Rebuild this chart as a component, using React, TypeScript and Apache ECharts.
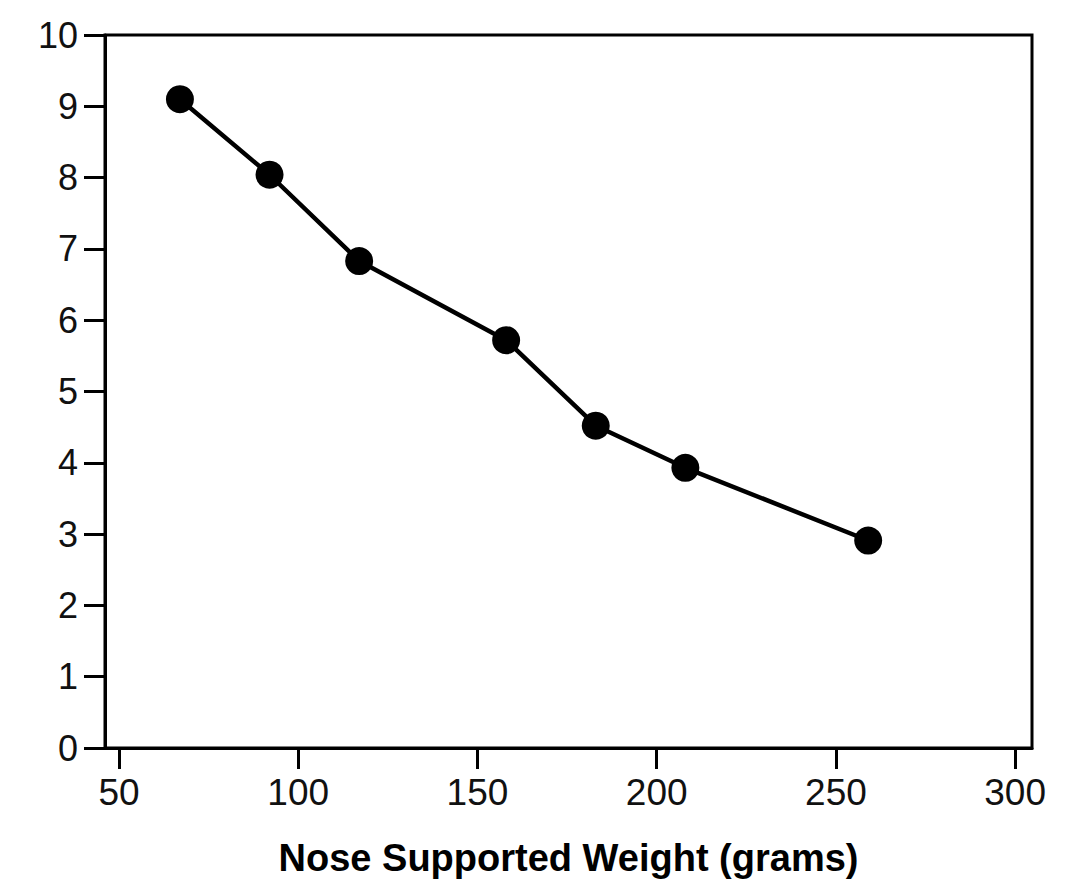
import React, { useEffect, useRef } from "react";
import * as echarts from "echarts";

const weights = [67, 92, 117, 158, 183, 208, 259];
const values = [9.1, 8.04, 6.83, 5.72, 4.52, 3.93, 2.91];
const xTicks = [50, 100, 150, 200, 250, 300];
const xTitle = "Nose Supported Weight (grams)";

export default function App() {
  const ref = useRef<HTMLDivElement>(null);
  useEffect(() => {
    document.body.style.margin = "0";
    const chart = echarts.init(ref.current!, null, { renderer: "svg" });
    const font = "'Liberation Sans', Arial, sans-serif";
    chart.setOption({
      animation: false,
      backgroundColor: "#fff",
      grid: {
        left: 105,
        right: 44,
        top: 35,
        bottom: 132,
        show: true,
        borderColor: "#000",
        borderWidth: 3,
        backgroundColor: "transparent",
      },
      xAxis: {
        type: "value",
        min: 46.1,
        max: 304.7,
        name: xTitle,
        nameLocation: "middle",
        nameGap: 91,
        nameTextStyle: { fontFamily: font, fontSize: 38, fontWeight: "bold", color: "#000" },
        axisLine: { show: true, onZero: false, lineStyle: { color: "#000", width: 3 } },
        axisTick: { show: true, length: 21, lineStyle: { color: "#000", width: 3 }, customValues: xTicks },
        axisLabel: {
          fontFamily: font,
          fontSize: 37,
          color: "#111",
          margin: 26,
          customValues: xTicks,
        },
        splitLine: { show: false },
      },
      yAxis: {
        type: "value",
        min: 0,
        max: 10,
        interval: 1,
        axisLine: { show: true, lineStyle: { color: "#000", width: 3 } },
        axisTick: { show: true, length: 21, lineStyle: { color: "#000", width: 3 } },
        axisLabel: {
          fontFamily: font,
          fontSize: 36,
          color: "#111",
          margin: 27,
          padding: [0, 0, 8, 0],
        },
        splitLine: { show: false },
      },
      series: [
        {
          type: "line",
          data: weights.map((w, i) => [w, values[i]]),
          symbol: "circle",
          symbolSize: 28,
          lineStyle: { color: "#000", width: 4.5 },
          itemStyle: { color: "#000" },
        },
      ],
    });
    return () => chart.dispose();
  }, []);
  return <div ref={ref} style={{ width: 1076, height: 882 }} />;
}
